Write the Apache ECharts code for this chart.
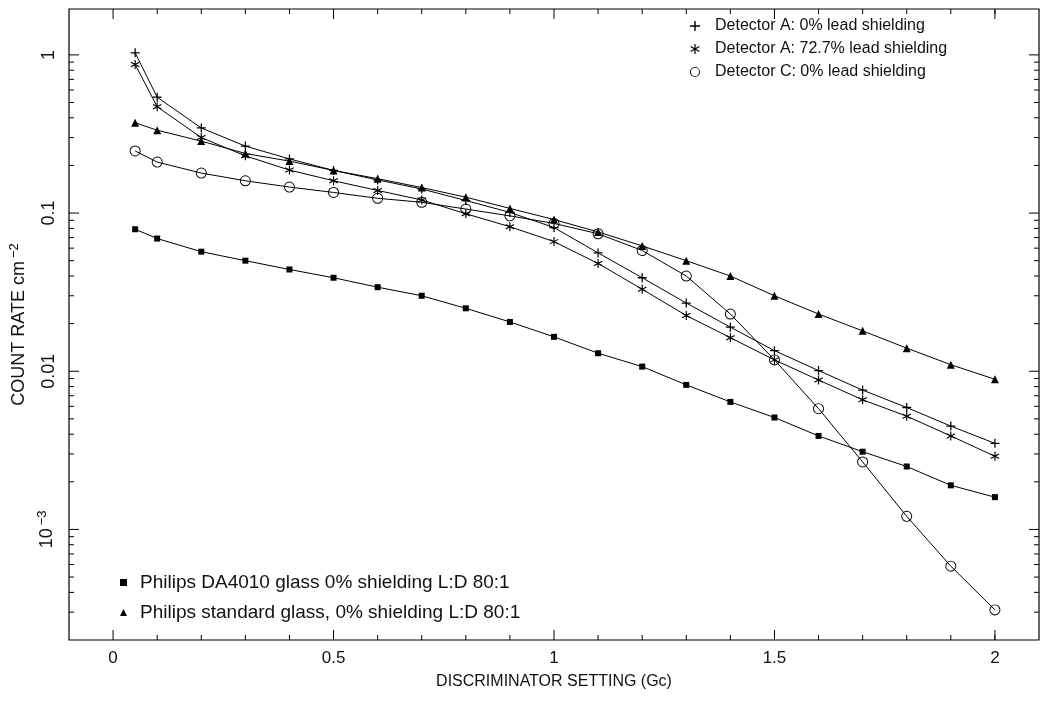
<!DOCTYPE html>
<html>
<head>
<meta charset="utf-8">
<script src="https://cdn.jsdelivr.net/npm/echarts@6/dist/echarts.min.js"></script>
<style>
  html, body { margin: 0; background: #fff; }
  #chart { width: 1040px; height: 710px; }
</style>
</head>
<body>
<div id="chart"></div>
<script>
// discriminator settings (Gc)
const settings = [0.05, 0.1, 0.2, 0.3, 0.4, 0.5, 0.6, 0.7, 0.8, 0.9, 1.0,
  1.1, 1.2, 1.3, 1.4, 1.5, 1.6, 1.7, 1.8, 1.9, 2.0];

// count rate cm^-2
const detA0 = [1.03, 0.54, 0.345, 0.265, 0.22, 0.186, 0.162, 0.142, 0.120, 0.101, 0.081,
  0.056, 0.039, 0.027, 0.019, 0.0135, 0.0101, 0.0076, 0.0059, 0.0045, 0.0035];
const detA727 = [0.87, 0.47, 0.30, 0.23, 0.187, 0.160, 0.139, 0.121, 0.099, 0.082, 0.066,
  0.048, 0.033, 0.0225, 0.0163, 0.0118, 0.0088, 0.0066, 0.0052, 0.0039, 0.0029];
const detC0 = [0.247, 0.210, 0.179, 0.160, 0.146, 0.135, 0.124, 0.117, 0.106, 0.096, 0.086,
  0.074, 0.058, 0.040, 0.023, 0.0118, 0.0058, 0.00267, 0.00121, 0.000586, 0.00031];
const philipsDA = [0.079, 0.069, 0.057, 0.050, 0.044, 0.039, 0.034, 0.030, 0.025, 0.0205, 0.0165,
  0.013, 0.0107, 0.0082, 0.0064, 0.0051, 0.0039, 0.0031, 0.0025, 0.0019, 0.0016];
const philipsStd = [0.372, 0.334, 0.285, 0.238, 0.213, 0.186, 0.165, 0.145, 0.126, 0.107, 0.091,
  0.076, 0.062, 0.050, 0.040, 0.030, 0.023, 0.018, 0.014, 0.011, 0.0089];

// tick marks
const xMajorTicks = [0, 0.5, 1, 1.5, 2];
const xMinorTicks = [0.1, 0.2, 0.3, 0.4, 0.6, 0.7, 0.8, 0.9, 1.1, 1.2, 1.3, 1.4,
  1.6, 1.7, 1.8, 1.9, 2.0];
const yMajorTicks = [0.001, 0.01, 0.1, 1];
const yMinorTicks = [0.0003, 0.0004, 0.0005, 0.0006, 0.0007, 0.0008, 0.0009,
  0.002, 0.003, 0.004, 0.005, 0.006, 0.007, 0.008, 0.009,
  0.02, 0.03, 0.04, 0.05, 0.06, 0.07, 0.08, 0.09,
  0.2, 0.3, 0.4, 0.5, 0.6, 0.7, 0.8, 0.9];

const names = [
  "Detector A: 0% lead shielding",
  "Detector A: 72.7% lead shielding",
  "Detector C: 0% lead shielding",
  "Philips DA4010 glass 0% shielding L:D 80:1",
  "Philips standard glass, 0% shielding L:D 80:1"
];

const FONT = "Liberation Sans";
const plusIcon = "path://M4.3,0L5.7,0L5.7,4.3L10,4.3L10,5.7L5.7,5.7L5.7,10L4.3,10L4.3,5.7L0,5.7L0,4.3L4.3,4.3Z";
const starIcon = "path://M4.4,0L5.6,0L5.6,10L4.4,10Z" +
  "M0.37,3.02L0.97,1.98L9.63,6.98L9.03,8.02Z" +
  "M0.97,8.02L0.37,6.98L9.03,1.98L9.63,3.02Z";
// open ring, lines show through like the original plot
const ringIcon = "path://M5,0A5,5,0,1,1,4.99,0ZM5,0.85A4.15,4.15,0,1,0,5.01,0.85Z";

function pairs(vals) {
  return settings.map((x, i) => [x, vals[i]]);
}

function makeLine(name, vals, symbol, size) {
  return {
    name: name,
    type: "line",
    data: pairs(vals),
    symbol: symbol,
    symbolSize: size,
    showAllSymbol: true,
    lineStyle: { color: "#000", width: 1 },
    itemStyle: { color: "#000" },
    emphasis: { disabled: true },
    z: 3
  };
}

const tickData = [];
xMajorTicks.forEach(v => tickData.push([v, 1, 0]));
xMinorTicks.forEach(v => tickData.push([v, 1, 1]));
yMajorTicks.forEach(v => tickData.push([1, v, 2]));
yMinorTicks.forEach(v => tickData.push([1, v, 3]));

function renderTick(params, api) {
  const cs = params.coordSys;
  const kind = api.value(2);
  const len = kind % 2 === 0 ? 10 : 5;
  const style = { stroke: "#000", lineWidth: 1 };
  if (kind < 2) {
    const x = api.coord([api.value(0), 1])[0];
    return {
      type: "group",
      children: [
        { type: "line", shape: { x1: x, y1: cs.y + cs.height, x2: x, y2: cs.y + cs.height - len }, style: style },
        { type: "line", shape: { x1: x, y1: cs.y, x2: x, y2: cs.y + len }, style: style }
      ]
    };
  }
  const y = api.coord([1, api.value(1)])[1];
  return {
    type: "group",
    children: [
      { type: "line", shape: { x1: cs.x, y1: y, x2: cs.x + len, y2: y }, style: style },
      { type: "line", shape: { x1: cs.x + cs.width, y1: y, x2: cs.x + cs.width - len, y2: y }, style: style }
    ]
  };
}

const chart = echarts.init(document.getElementById("chart"));
const option = {
  animation: false,
  backgroundColor: "#fff",
  textStyle: { fontFamily: FONT, color: "#000" },
  grid: {
    left: 68, right: 1, top: 9, bottom: 70,
    show: true, borderColor: "#000", borderWidth: 1.2, backgroundColor: "transparent"
  },
  legend: [
    {
      orient: "vertical", left: 685, top: 13,
      itemWidth: 18, itemHeight: 10, itemGap: 7,
      textStyle: { fontFamily: FONT, fontSize: 16, color: "#111", lineHeight: 16, padding: [0, 0, 0, 6] },
      data: [
        { name: names[0], icon: plusIcon },
        { name: names[1], icon: starIcon },
        { name: names[2], icon: ringIcon }
      ]
    },
    {
      orient: "vertical", left: 115, top: 568,
      itemWidth: 7, itemHeight: 7, itemGap: 11,
      textStyle: { fontFamily: FONT, fontSize: 19, color: "#111", lineHeight: 19, padding: [0, 0, 0, 8] },
      data: [
        { name: names[3], icon: "rect" },
        { name: names[4], icon: "triangle" }
      ]
    }
  ],
  xAxis: {
    type: "value",
    min: -0.1,
    max: 2.1,
    name: "DISCRIMINATOR SETTING (Gc)",
    nameLocation: "middle",
    nameGap: 34,
    nameTextStyle: { fontFamily: FONT, fontSize: 16, color: "#111" },
    axisLine: { show: false },
    axisTick: { show: false },
    splitLine: { show: false },
    axisLabel: {
      margin: 10, fontFamily: FONT, fontSize: 17, color: "#111",
      showMinLabel: false, showMaxLabel: false
    }
  },
  yAxis: {
    type: "log",
    min: 0.0002,
    max: 1.95,
    name: "COUNT RATE cm{sup|\u22122}",
    nameLocation: "middle",
    nameGap: 39,
    nameTextStyle: {
      fontFamily: FONT, fontSize: 18, color: "#111",
      rich: { sup: { fontFamily: FONT, fontSize: 13, verticalAlign: "bottom", padding: [0, 0, 9, 3] } }
    },
    axisLine: { show: false },
    axisTick: { show: false },
    splitLine: { show: false },
    minorTick: { show: false },
    axisLabel: {
      rotate: 90, margin: 11, fontFamily: FONT, fontSize: 18, color: "#111",
      showMinLabel: false, showMaxLabel: false,
      formatter: function (v) {
        if (v < 0.005) return "10{sup|\u22123}";
        return String(Math.round(v * 1000) / 1000);
      },
      rich: { sup: { fontFamily: FONT, fontSize: 13, verticalAlign: "bottom", padding: [0, 0, 9, 3] } }
    }
  },
  series: [
    makeLine(names[0], detA0, plusIcon, 9),
    makeLine(names[1], detA727, starIcon, 9),
    makeLine(names[2], detC0, ringIcon, 11),
    makeLine(names[3], philipsDA, "rect", 6),
    makeLine(names[4], philipsStd, "triangle", 8),
    {
      type: "custom",
      name: "ticks",
      data: tickData,
      encode: { x: 0, y: 1 },
      renderItem: renderTick,
      silent: true,
      clip: false,
      z: 5
    }
  ]
};
chart.setOption(option);
window.onresize = chart.resize;
</script>
</body>
</html>
